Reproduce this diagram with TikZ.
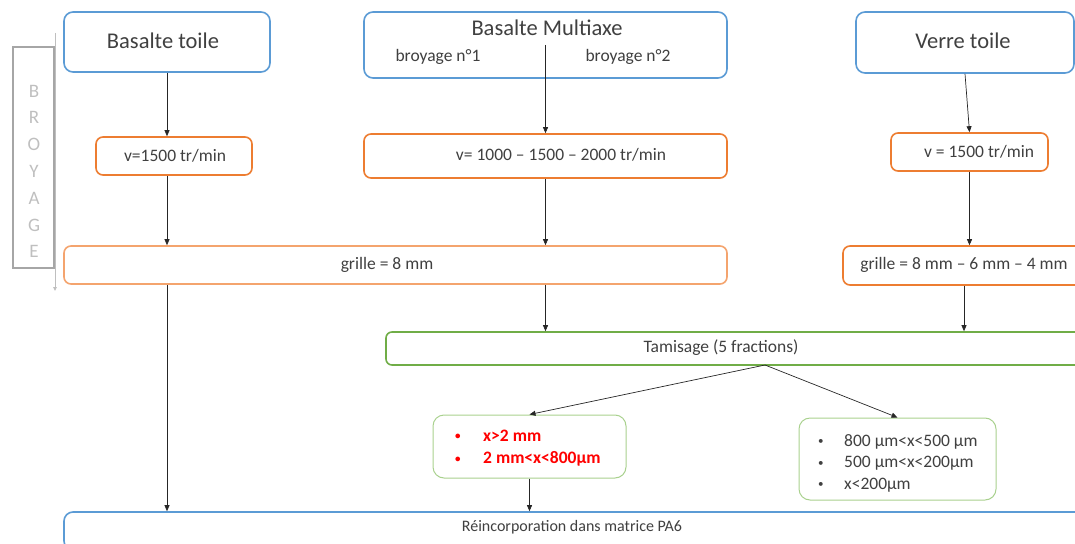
\documentclass[tikz,border=0pt]{standalone}
\usepackage{fontspec}
\setmainfont{Carlito}
\usetikzlibrary{arrows.meta}
\definecolor{cblue}{HTML}{5B9BD5}
\definecolor{corange}{HTML}{ED7D31}
\definecolor{corangel}{HTML}{F4A46E}
\definecolor{cgreen}{HTML}{70AD47}
\definecolor{cgreenl}{HTML}{A9D18E}
\definecolor{ctext}{HTML}{404040}
\definecolor{cgray}{HTML}{A6A6A6}
\definecolor{cgrayl}{HTML}{BFBFBF}
\definecolor{cred}{HTML}{FF0000}
\newcommand{\smallbul}{{\fontsize{11}{11}\selectfont\raisebox{1.5pt}{•}}}
\tikzset{
  base/.style={draw, line width=1.6pt, fill=white, inner sep=0pt, text=ctext},
  bluebox/.style={base, draw=cblue, rounded corners=9pt},
  orangebox/.style={base, draw=corange, rounded corners=7pt},
  orangelbox/.style={base, draw=corangel, rounded corners=7pt},
  greenbox/.style={base, draw=cgreen, rounded corners=6pt},
  fracbox/.style={base, draw=cgreenl, line width=1pt, rounded corners=11pt},
  title/.style={text=ctext, inner sep=0pt, font=\fontsize{22.5}{26}\selectfont},
  txt/.style={text=ctext, inner sep=0pt, font=\fontsize{17.5}{21}\selectfont},
  arr/.style={draw=black!85, line width=0.7pt, -{Triangle[length=6pt,width=5pt]}},
  garr/.style={draw=cgrayl, line width=1pt, -{Triangle[length=4pt,width=3.5pt]}},
}
\begin{document}
\begin{tikzpicture}[x=1pt,y=-1pt]
\useasboundingbox (0,0) rectangle (1075,543);
\clip (0,0) rectangle (1075,543);
% BROYAGE bracket
\coordinate (ba) at (55,33);
\coordinate (bb) at (55,291);
\draw[garr] (ba) -- (bb);
\node[draw=cgray, line width=1.6pt, minimum width=41pt, minimum height=221pt, inner sep=0pt] (brbox) at (33.5,157.5) {};
\node[text=cgrayl, inner sep=0pt, align=center, font=\fontsize{19}{26.8}\selectfont] (brtxt) at (34,171.5) {B\\R\\O\\Y\\A\\G\\E};
% top boxes
\node[bluebox, minimum width=206pt, minimum height=60pt] (bt) at (167,42) {};
\node[title] (btt) at (163,41) {Basalte toile};
\node[bluebox, minimum width=363pt, minimum height=66pt] (mx) at (545.5,45) {};
\node[title] (mxt) at (547,28) {Basalte Multiaxe};
\node[txt] (mxa) at (438,57) {broyage n°1};
\node[txt] (mxb) at (628,57) {broyage n°2};
\node[bluebox, minimum width=218pt, minimum height=61pt] (vt) at (965,42.5) {};
\node[title] (vtt) at (963,41) {Verre toile};
% speed boxes
\node[orangebox, minimum width=156pt, minimum height=38pt] (v1) at (174,156) {};
\node[txt] (v1t) at (175,156) {v=1500 tr/min};
\node[orangebox, minimum width=363pt, minimum height=44pt] (v2) at (545.5,156) {};
\node[txt] (v2t) at (561,155) {v= 1000 – 1500 – 2000 tr/min};
\node[orangebox, minimum width=157pt, minimum height=38pt] (v3) at (969.5,152) {};
\node[txt] (v3t) at (979,152) {v = 1500 tr/min};
% grid boxes
\node[orangelbox, minimum width=663pt, minimum height=38pt] (g1) at (395.5,265) {};
\node[txt] (g1t) at (387,265) {grille = 8 mm};
\node[orangebox, minimum width=242pt, minimum height=39pt] (g2) at (964,265.5) {};
\node[txt] (g2t) at (964,265) {grille = 8 mm – 6 mm – 4 mm};
% sieving
\node[greenbox, minimum width=704pt, minimum height=33pt] (tam) at (738,348.5) {};
\node[txt] (tamt) at (721,348) {Tamisage (5 fractions)};
\coordinate (ts) at (765,365);
% fractions
\node[fracbox, minimum width=193pt, minimum height=63pt] (f1) at (529.5,446.5) {};
\node[txt, anchor=west, text=cred, font=\fontsize{17.5}{22.8}\selectfont\bfseries] (f1t) at (455,448)
  {\begin{tabular}{@{}p{28pt}@{}l@{}}\smallbul&x>2 mm\\\smallbul&2 mm<x<800µm\end{tabular}};
\node[fracbox, minimum width=197pt, minimum height=82pt] (f2) at (897.5,459) {};
\node[txt, anchor=west, font=\fontsize{17.5}{21.5}\selectfont] (f2t) at (818,463.5)
  {\begin{tabular}{@{}p{26pt}@{}l@{}}\smallbul&800 µm<x<500 µm\\\smallbul&500 µm<x<200µm\\\smallbul&x<200µm\end{tabular}};
% bottom
\node[bluebox, minimum width=1026pt, minimum height=38pt] (re) at (577,531) {};
\node[txt, font=\fontsize{16}{19}\selectfont] (ret) at (572,527) {Réincorporation dans matrice PA6};
% connectors
\draw[arr] (bt.south) -- (bt.south |- v1.north);
\draw[arr] (bt.south |- v1.south) -- (bt.south |- g1.north);
\draw[arr] (bt.south |- g1.south) -- (bt.south |- re.north);
\draw[arr] (mx.center) -- (v2.north);
\draw[arr] (v2.south) -- (v2.south |- g1.north);
\draw[arr] (v2.south |- g1.south) -- (v2.south |- tam.north);
\draw[arr] (vt.south) -- (v3.north);
\draw[arr] (v3.south) -- (v3.south |- g2.north);
\draw[arr] (g2.south) -- (g2.south |- tam.north);
\draw[arr] (ts) -- (f1.north);
\draw[arr] (ts) -- (f2.north);
\draw[arr] (f1.south) -- (f1.south |- re.north);
\end{tikzpicture}
\end{document}
